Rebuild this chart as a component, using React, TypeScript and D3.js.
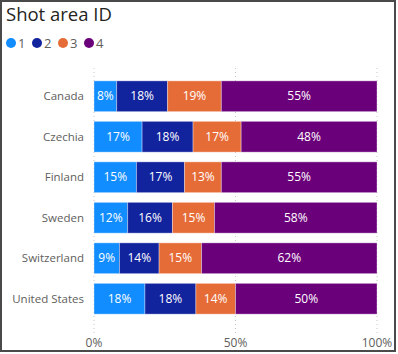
import React from "react";
import * as d3 from "d3";

const categories = ["Canada", "Czechia", "Finland", "Sweden", "Switzerland", "United States"];
const seriesKeys = ["1", "2", "3", "4"];
const s1 = [8, 17, 15, 12, 9, 18];
const s2 = [18, 18, 17, 16, 14, 18];
const s3 = [19, 17, 13, 15, 15, 14];
const s4 = [55, 48, 55, 58, 62, 50];
const colors = ["#118DFF", "#12239E", "#E66C37", "#6B007B"];
const ticks = [0, 0.5, 1];
const title = "Shot area ID";

export default function App() {
  const W = 398, H = 354;
  const x = d3.scaleLinear().domain([0, 1]).range([94, 377]);
  const y = d3.scaleBand().domain(categories).range([76, 319]).paddingInner(0.24).paddingOuter(0.12);
  const rows = categories.map((c, i) => {
    const vals = [s1[i], s2[i], s3[i], s4[i]];
    const total = d3.sum(vals);
    return { c, vals, total };
  });
  const font = "'Segoe UI', 'Open Sans', 'Noto Sans', sans-serif";
  return (
    <svg width={W} height={H} style={{ position: "absolute", left: 0, top: 0, fontFamily: font }}>
      <rect x={0} y={0} width={W} height={H} fill="#fff" />
      <rect x={1} y={1} width={394} height={350} fill="none" stroke="#4a4a4a" strokeWidth={2} />
      <text x={6} y={21} fontSize={18.5} fill="#252423">{title}</text>
      {seriesKeys.map((k, i) => (
        <g key={k} transform={`translate(${11 + i * 26},43)`}>
          <circle cx={0} cy={0} r={5} fill={colors[i]} />
          <text x={7} y={5} fontSize={13} fill="#605E5C">{k}</text>
        </g>
      ))}
      {ticks.map((t) => (
        <line key={t} x1={x(t)} x2={x(t)} y1={68} y2={335} stroke="#C8C6C4" strokeDasharray="1,3" />
      ))}
      {rows.map((r) => {
        let acc = 0;
        const y0 = y(r.c)!;
        const bw = y.bandwidth();
        return (
          <g key={r.c}>
            <text x={84} y={y0 + bw / 2} dy="0.35em" textAnchor="end" fontSize={11.5} fill="#605E5C">{r.c}</text>
            {r.vals.map((v, j) => {
              const a = acc / r.total;
              acc += v;
              const b = acc / r.total;
              const xa = x(a), xb = x(b);
              return (
                <g key={j}>
                  <rect x={xa} y={y0} width={xb - xa} height={bw} fill={colors[j]} stroke="rgba(255,255,255,0.35)" strokeWidth={1} />
                  <text x={(xa + xb) / 2} y={y0 + bw / 2} dy="0.35em" textAnchor="middle" fontSize={12} fill="#fff">{v}%</text>
                </g>
              );
            })}
          </g>
        );
      })}
      {ticks.map((t) => (
        <text key={t} x={x(t)} y={347} textAnchor="middle" fontSize={12} fill="#605E5C">{d3.format(".0%")(t)}</text>
      ))}
    </svg>
  );
}
